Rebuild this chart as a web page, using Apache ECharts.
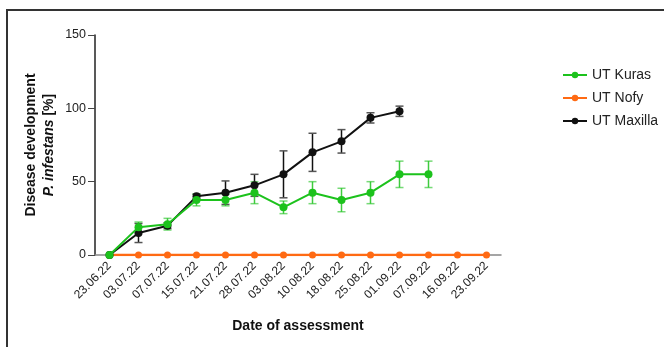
<!DOCTYPE html>
<html>
<head>
<meta charset="utf-8">
<script src="https://cdn.jsdelivr.net/npm/echarts@6/dist/echarts.min.js"></script>
<style>
  html, body { margin: 0; padding: 0; background: #fff; }
  #chart { width: 664px; height: 347px; }
</style>
</head>
<body>
<div id="chart"></div>
<script>
// Assessment dates
const dates = ['23.06.22', '03.07.22', '07.07.22', '15.07.22', '21.07.22', '28.07.22', '03.08.22',
  '10.08.22', '18.08.22', '25.08.22', '01.09.22', '07.09.22', '16.09.22', '23.09.22'];

// Mean disease development [%] and error (±) per variety
const kurasMean = [0, 19, 21, 37.5, 37.5, 42.5, 32.5, 42.5, 37.5, 42.5, 55, 55];
const kurasErr  = [0, 3.5, 4, 4, 4, 7.5, 4.3, 7.5, 8, 7.5, 9, 9];
const nofyMean  = [0, 0, 0, 0, 0, 0, 0, 0, 0, 0, 0, 0, 0, 0];
const maxillaMean = [0, 15, 20, 40, 42.5, 47.5, 55, 70, 77.5, 93.5, 98];
const maxillaErr  = [0, 6.5, 2, 1.5, 8, 7.5, 16, 13, 8, 3.5, 3.5];

const yTicks = [0, 50, 100, 150];

const GREEN = '#1cc21c';
const ORANGE = '#ff6a13';
const BLACK = '#111111';

function errorData(mean, err) {
  return mean.map((m, i) => [i, m - err[i], m + err[i]]).filter(d => d[2] > d[1]);
}

// Vertical error bars with caps, drawn through the chart's own scales
function errorSeries(id, data, color, capColor) {
  return {
    type: 'custom',
    id: id,
    silent: true,
    z: 2,
    data: data,
    renderItem: function (params, api) {
      const x = api.value(0);
      const lo = api.coord([x, api.value(1)]);
      const hi = api.coord([x, api.value(2)]);
      const w = 4;
      return {
        type: 'group',
        children: [
          { type: 'line', shape: { x1: lo[0], y1: lo[1], x2: hi[0], y2: hi[1] }, style: { stroke: color, lineWidth: 1.5 } },
          { type: 'line', shape: { x1: hi[0] - w, y1: hi[1], x2: hi[0] + w, y2: hi[1] }, style: { stroke: capColor, lineWidth: 1.5 } },
          { type: 'line', shape: { x1: lo[0] - w, y1: lo[1], x2: lo[0] + w, y2: lo[1] }, style: { stroke: capColor, lineWidth: 1.5 } }
        ]
      };
    }
  };
}

const chart = echarts.init(document.getElementById('chart'), null, { renderer: 'canvas' });

chart.setOption({
  animation: false,
  textStyle: { fontFamily: 'Liberation Sans, Arial, sans-serif' },
  graphic: [
    {
      type: 'rect',
      shape: { x: 7, y: 10, width: 720, height: 400 },
      style: { fill: 'none', stroke: '#333', lineWidth: 2 },
      silent: true,
      z: -10
    },
    {
      // Two-line y-axis title, rotated
      type: 'text',
      x: 40,
      y: 145,
      rotation: Math.PI / 2,
      silent: true,
      style: {
        text: '{b|Disease development}\n{i|P. infestans} {b|[%]}',
        align: 'center',
        verticalAlign: 'middle',
        fontFamily: 'Liberation Sans, Arial, sans-serif',
        fontSize: 14,
        fontWeight: 'bold',
        fill: '#111',
        lineHeight: 18,
        rich: {
          b: { fontSize: 14, fontWeight: 'bold', fill: '#111', lineHeight: 18, fontFamily: 'Liberation Sans, Arial, sans-serif' },
          i: { fontSize: 14, fontWeight: 'bold', fontStyle: 'italic', fill: '#111', lineHeight: 18, fontFamily: 'Liberation Sans, Arial, sans-serif' }
        }
      }
    }
  ],
  grid: { left: 95, right: 163, top: 35, bottom: 92 },
  legend: {
    orient: 'vertical',
    left: 557,
    top: 63,
    itemWidth: 24,
    itemHeight: 8,
    itemGap: 9,
    textStyle: { fontSize: 14, color: '#222', fontFamily: 'Liberation Sans, Arial, sans-serif' },
    data: ['UT Kuras', 'UT Nofy', 'UT Maxilla']
  },
  xAxis: {
    type: 'category',
    data: dates,
    boundaryGap: true,
    name: 'Date of assessment',
    nameLocation: 'middle',
    nameGap: 64,
    nameTextStyle: { fontSize: 14, fontWeight: 'bold', color: '#111' },
    axisLine: { lineStyle: { color: '#888', width: 1.5 } },
    axisTick: { alignWithLabel: true, length: 6, lineStyle: { color: '#222', width: 1 } },
    axisLabel: { rotate: 45, fontSize: 12, color: '#222', margin: 9, interval: 0 }
  },
  yAxis: {
    type: 'value',
    min: 0,
    max: 150,
    interval: 50,
    splitLine: { show: false },
    axisLine: { show: true, lineStyle: { color: '#222', width: 1.5 } },
    axisTick: { show: true, length: 7, lineStyle: { color: '#444', width: 1 } },
    axisLabel: {
      fontSize: 12.5, color: '#222', margin: 9,
      formatter: v => (yTicks.indexOf(v) >= 0 ? String(v) : '')
    }
  },
  series: [
    errorSeries('maxillaErrorBars', errorData(maxillaMean, maxillaErr), BLACK, '#555'),
    errorSeries('kurasErrorBars', errorData(kurasMean, kurasErr), 'rgba(28,194,28,0.85)', 'rgba(28,194,28,0.6)'),
    {
      name: 'UT Nofy', type: 'line', data: nofyMean, z: 3,
      symbol: 'circle', symbolSize: 7,
      lineStyle: { color: ORANGE, width: 2.5 }, itemStyle: { color: ORANGE }
    },
    {
      name: 'UT Maxilla', type: 'line', data: maxillaMean, z: 4,
      symbol: 'circle', symbolSize: 8,
      lineStyle: { color: BLACK, width: 2 }, itemStyle: { color: BLACK }
    },
    {
      name: 'UT Kuras', type: 'line', data: kurasMean, z: 5,
      symbol: 'circle', symbolSize: 8,
      lineStyle: { color: GREEN, width: 2 }, itemStyle: { color: GREEN }
    }
  ]
});
</script>
</body>
</html>
